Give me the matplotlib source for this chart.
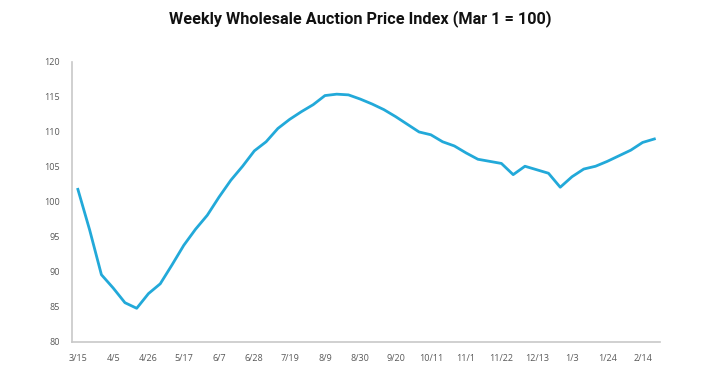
import matplotlib.pyplot as plt

# weekly index values, Mar 1 = 100
index_values = [101.8, 96.0, 89.6, 87.7, 85.6, 84.8, 86.9, 88.3, 91.0, 93.8,
                96.1, 98.1, 100.7, 103.1, 105.1, 107.3, 108.6, 110.5, 111.8, 112.9,
                113.9, 115.2, 115.4, 115.3, 114.7, 114.0, 113.2, 112.2, 111.1, 110.0,
                109.6, 108.6, 108.0, 107.0, 106.1, 105.8, 105.5, 103.9, 105.1, 104.6,
                104.1, 102.1, 103.6, 104.7, 105.1, 105.8, 106.6, 107.4, 108.5, 109.0]
tick_labels = ["3/15", "4/5", "4/26", "5/17", "6/7", "6/28", "7/19", "8/9", "8/30",
               "9/20", "10/11", "11/1", "11/22", "12/13", "1/3", "1/24", "2/14"]
y_ticks = [80, 85, 90, 95, 100, 105, 110, 115, 120]

fig = plt.figure(figsize=(7.2, 3.85), dpi=100)
ax = fig.add_axes([0.1, 0.112, 0.817, 0.727])

weeks = list(range(len(index_values)))
ax.plot(weeks, index_values, color="#22a9d9", linewidth=2.0, solid_joinstyle="round")

ax.set_xlim(-0.5, len(index_values) - 0.5)
ax.set_ylim(80, 120)
ax.set_yticks(y_ticks)
ax.set_xticks(weeks[::3])
ax.set_xticklabels(tick_labels)

for s in ["top", "right"]:
    ax.spines[s].set_visible(False)
for s in ["left", "bottom"]:
    ax.spines[s].set_color("#c8c8c8")
    ax.spines[s].set_linewidth(1.2)
ax.tick_params(length=0, labelsize=6.5, labelcolor="#595959")
ax.tick_params(axis="y", pad=9)
ax.tick_params(axis="x", pad=9)
for lab in ax.get_xticklabels() + ax.get_yticklabels():
    lab.set_family("Open Sans")

fig.suptitle("Weekly Wholesale Auction Price Index (Mar 1 = 100)", x=0.5, y=0.975,
             fontsize=11.7, fontweight="bold", family="Roboto", color="#111111")

fig.savefig("out.png", dpi=100)
